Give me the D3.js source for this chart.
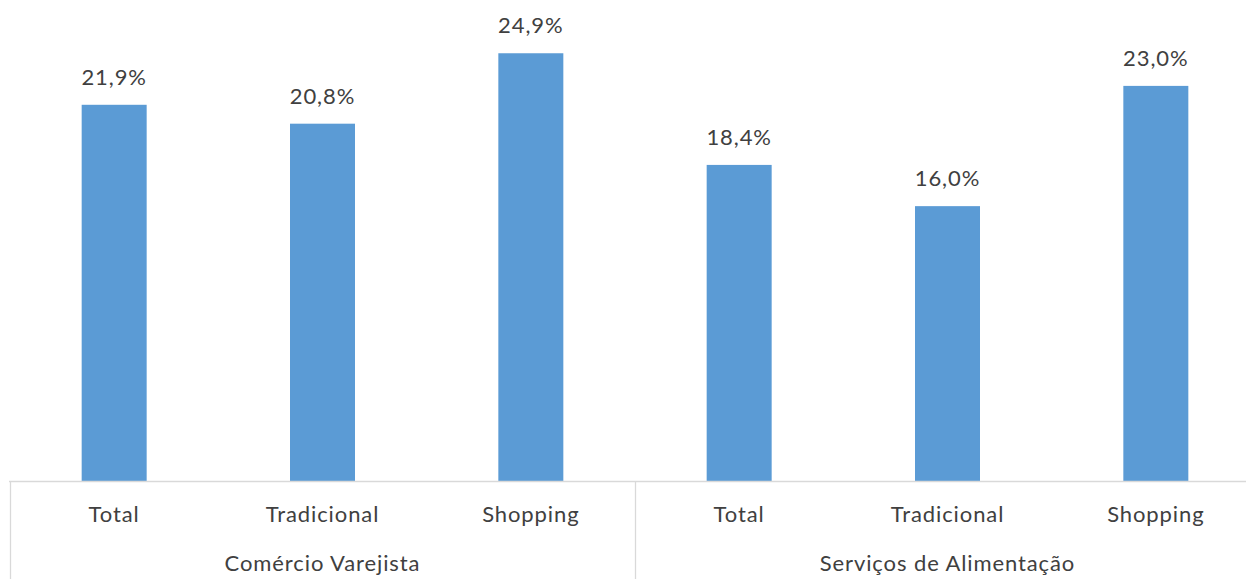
<!DOCTYPE html>
<html><head><meta charset="utf-8">
<script src="https://cdn.jsdelivr.net/npm/d3@7"></script>
<style>html,body{margin:0;padding:0;background:#fff;overflow:hidden}</style>
</head><body><svg id="c" width="1246" height="579"></svg>
<script>
const groups = ["Comércio Varejista", "Serviços de Alimentação"];
const categories = ["Total", "Tradicional", "Shopping"];
const values = [21.9, 20.8, 24.9, 18.4, 16.0, 23.0];
const labels = ["21,9%", "20,8%", "24,9%", "18,4%", "16,0%", "23,0%"];

const rows = [];
groups.forEach((g, gi) => categories.forEach((c, ci) => {
  const i = gi * categories.length + ci;
  rows.push({key: g + "|" + c, group: g, cat: c, v: values[i], label: labels[i]});
}));

const svg = d3.select("#c");
const font = "Lato, 'Open Sans', sans-serif";
const fs = 22;
const ls = 0.9;
const x = d3.scaleBand().domain(rows.map(d => d.key)).range([10, 1260]).paddingInner(0.688).paddingOuter(0.344);
const y = d3.scaleLinear().domain([0, 28]).range([481, 0]);
const step = x.step();

svg.selectAll("rect.bar").data(rows).join("rect")
  .attr("x", d => x(d.key)).attr("width", x.bandwidth())
  .attr("y", d => y(d.v)).attr("height", d => y(0) - y(d.v))
  .attr("fill", "#5B9BD5");

svg.selectAll("text.val").data(rows).join("text")
  .attr("x", d => x(d.key) + x.bandwidth() / 2).attr("y", d => y(d.v) - 20)
  .attr("text-anchor", "middle").attr("font-family", font).attr("font-size", fs)
  .attr("letter-spacing", ls).attr("fill", "#404040").text(d => d.label);

// axis line
const axisG = svg.append("g");
axisG.append("line").attr("x1", 9).attr("x2", 1260).attr("y1", y(0) + 0.5).attr("y2", y(0) + 0.5)
  .attr("stroke", "#D9D9D9").attr("stroke-width", 1.3);
const seps = [0, 3, 6].map(i => i < 6 ? x(rows[i].key) - step * 0.344 : x(rows[5].key) + x.bandwidth() + step * 0.344);
seps.forEach(sx => axisG.append("line").attr("x1", Math.round(sx) + 0.5).attr("x2", Math.round(sx) + 0.5)
  .attr("y1", y(0)).attr("y2", 579).attr("stroke", "#D9D9D9").attr("stroke-width", 1.3));

svg.selectAll("text.cat").data(rows).join("text")
  .attr("x", d => x(d.key) + x.bandwidth() / 2).attr("y", 522)
  .attr("text-anchor", "middle").attr("font-family", font).attr("font-size", fs)
  .attr("letter-spacing", ls).attr("fill", "#404040").text(d => d.cat);

svg.selectAll("text.grp").data(groups).join("text")
  .attr("x", (g, gi) => x(rows[gi * 3 + 1].key) + x.bandwidth() / 2).attr("y", 571)
  .attr("text-anchor", "middle").attr("font-family", font).attr("font-size", fs)
  .attr("letter-spacing", ls).attr("fill", "#404040").text(d => d);
</script></body></html>
